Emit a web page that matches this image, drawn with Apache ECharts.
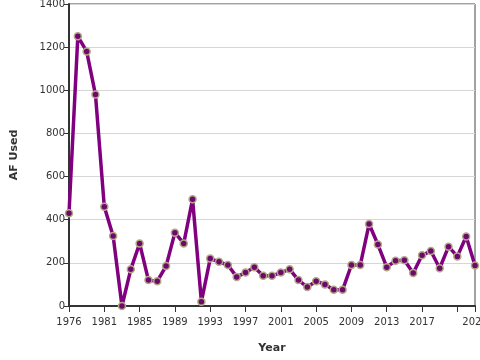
<!DOCTYPE html>
<html>
<head>
<meta charset="utf-8">
<script src="https://cdn.jsdelivr.net/npm/echarts@6/dist/echarts.min.js"></script>
<style>html,body{margin:0;padding:0;background:#fff;}#c{width:480px;height:360px;}</style>
</head>
<body>
<div id="c"></div>
<script>
const years = ['1976','1978','1979','1980','1981','1982','1983','1984','1985','1986','1987','1988','1989','1990','1991','1992','1993','1994','1995','1996','1997','1998','1999','2000','2001','2002','2003','2004','2005','2006','2007','2008','2009','2010','2011','2012','2013','2014','2015','2016','2017','2018','2019','2020','2021','2022','2023'];
const afUsed = [430,1250,1180,980,460,325,0,170,290,120,115,185,340,290,495,20,220,205,190,135,155,180,140,140,155,170,120,88,115,100,75,75,190,190,380,285,180,210,212,153,235,255,175,275,230,322,188];
const yTicks = {min:0, max:1400, interval:200};

const chart = echarts.init(document.getElementById('c'), null, {renderer:'canvas'});
const font = 'DejaVu Sans';
chart.setOption({
  animation:false,
  grid:{left:69, right:5, top:4, bottom:54, show:true, borderColor:'#444', borderWidth:1, containLabel:false, outerBoundsMode:'none'},
  xAxis:{
    type:'category', data:years, boundaryGap:false,
    name:'Year', nameLocation:'middle', nameGap:37,
    nameTextStyle:{fontFamily:font, fontWeight:'bold', fontSize:11, color:'#333'},
    axisLine:{lineStyle:{color:'#333', width:2}},
    axisTick:{show:true, length:6, lineStyle:{color:'#333'}, interval:(i)=> i%4===0 || i===46},
    axisLabel:{fontFamily:font, fontSize:10, color:'#333', margin:11, hideOverlap:false, showMaxLabel:true, interval:(i)=> (i%4===0 && i<=40) || i===46},
    splitLine:{show:false}
  },
  yAxis:{
    type:'value', min:yTicks.min, max:yTicks.max, interval:yTicks.interval,
    name:'AF Used', nameLocation:'middle', nameGap:49,
    nameTextStyle:{fontFamily:font, fontWeight:'bold', fontSize:11, color:'#333'},
    axisLine:{show:true, lineStyle:{color:'#333', width:2}},
    axisTick:{show:true, length:5, lineStyle:{color:'#333'}},
    axisLabel:{fontFamily:font, fontSize:10, color:'#333', margin:4, formatter:(v)=> String(v)},
    splitLine:{show:true, lineStyle:{color:'#d6d6d6', width:1}}
  },
  series:[{
    type:'line', data:afUsed, showAllSymbol:true,
    lineStyle:{color:'#800080', width:3.5},
    symbol:'circle', symbolSize:7,
    itemStyle:{color:'#6b0a6b', borderColor:'#b4a788', borderWidth:1.5},
    z:3
  }]
});
</script>
</body>
</html>
